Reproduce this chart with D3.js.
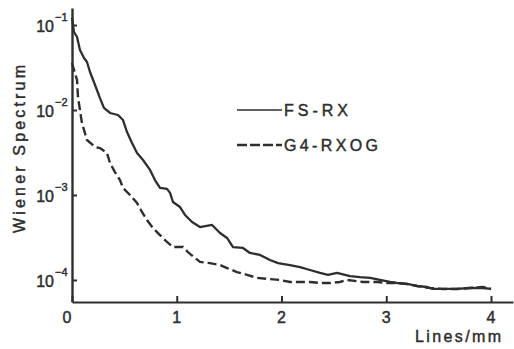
<!DOCTYPE html>
<html>
<head>
<meta charset="utf-8">
<script src="https://cdn.jsdelivr.net/npm/d3@7"></script>
<style>
  html, body { margin: 0; padding: 0; background: #fff; }
  svg { display: block; }
  text { font-family: "Liberation Sans", Arial, Helvetica, sans-serif; fill: #2e2e2e; stroke: #2e2e2e; stroke-width: 0.45px; }
</style>
</head>
<body>
<svg id="chart" width="514" height="349"></svg>
<script>
// Spatial frequency (lines/mm) and Wiener spectrum values for each screen/film system
const fsrxFreq = [0, 0.019, 0.048, 0.076, 0.115, 0.143, 0.172, 0.22, 0.267, 0.305, 0.363, 0.439, 0.487, 0.525, 0.573, 0.621, 0.678, 0.745, 0.792, 0.84, 0.907, 0.936, 0.964, 1.031, 1.079, 1.146, 1.222, 1.337, 1.413, 1.48, 1.537, 1.632, 1.699, 1.795, 1.89, 1.967, 2.081, 2.177, 2.272, 2.368, 2.444, 2.53, 2.654, 2.749, 2.845, 2.94, 3.036, 3.103, 3.198, 3.294, 3.389, 3.446, 3.542, 3.675, 3.8, 3.924, 4.0];
const fsrxValues = [0.121, 0.0827, 0.0722, 0.0508, 0.0409, 0.0367, 0.028, 0.0197, 0.0138, 0.0106, 0.00922, 0.00873, 0.00762, 0.00551, 0.00409, 0.00312, 0.00258, 0.00197, 0.0015, 0.00121, 0.00118, 0.00106, 0.000827, 0.000722, 0.000582, 0.000481, 0.00042, 0.000444, 0.000357, 0.000312, 0.000244, 0.000238, 0.000208, 0.000197, 0.000172, 0.000158, 0.00015, 0.000142, 0.000131, 0.000121, 0.000115, 0.000121, 0.000111, 0.000108, 0.000106, 0.0001, 0.0000947, 0.0000922, 0.0000898, 0.000085, 0.0000827, 0.0000784, 0.0000784, 0.0000784, 0.0000805, 0.0000805, 0.0000784];

const g4Freq = [0, 0.019, 0.048, 0.057, 0.076, 0.095, 0.143, 0.22, 0.267, 0.334, 0.363, 0.41, 0.458, 0.487, 0.554, 0.621, 0.668, 0.716, 0.773, 0.84, 0.907, 0.964, 1.06, 1.107, 1.174, 1.222, 1.317, 1.413, 1.48, 1.575, 1.671, 1.766, 1.862, 1.986, 2.081, 2.177, 2.272, 2.368, 2.463, 2.558, 2.625, 2.778, 2.912, 3.007, 3.103, 3.198, 3.294, 3.418, 3.542, 3.675, 3.8, 3.924, 4.0];
const g4Values = [0.0357, 0.0296, 0.0226, 0.0142, 0.01, 0.00703, 0.00444, 0.00367, 0.00357, 0.00312, 0.00238, 0.00186, 0.0015, 0.00121, 0.001, 0.000805, 0.000631, 0.000508, 0.000409, 0.000338, 0.00028, 0.000244, 0.000244, 0.000213, 0.000182, 0.000163, 0.000158, 0.00015, 0.000138, 0.000124, 0.000115, 0.000106, 0.000103, 0.0001, 0.0000947, 0.0000947, 0.0000947, 0.0000922, 0.0000922, 0.0000947, 0.0001, 0.0000947, 0.0000947, 0.0000922, 0.0000922, 0.0000898, 0.000085, 0.0000805, 0.0000784, 0.0000784, 0.0000805, 0.0000827, 0.0000784];

const xTicks = [0, 1, 2, 3, 4];
const yTicks = [1e-1, 1e-2, 1e-3, 1e-4];
const yTickExponents = ["\u22121", "\u22122", "\u22123", "\u22124"];
const seriesNames = ["FS-RX", "G4-RXOG"];
const xTitle = "Lines/mm";
const yTitle = "Wiener  Spectrum";

const ink = "#2e2e2e";
const svg = d3.select("#chart");

const x = d3.scaleLinear().domain([0, 4.21]).range([72, 513]);
const y = d3.scaleLog().domain([Math.pow(10, -4.259), Math.pow(10, -0.8)]).range([302, 8]);

// Axes: ticks point inward, labels drawn separately
const xAxis = svg.append("g")
  .attr("transform", `translate(0,${y.range()[0]})`)
  .call(d3.axisBottom(x).tickValues(xTicks).tickSizeInner(-6).tickSizeOuter(0).tickFormat(""));
xAxis.select(".domain").attr("stroke", ink).attr("stroke-width", 2);
xAxis.selectAll(".tick line").attr("stroke", ink).attr("stroke-width", 2);

const yAxis = svg.append("g")
  .attr("transform", `translate(${x(0)},0)`)
  .call(d3.axisLeft(y).tickValues(yTicks).tickSizeInner(-5).tickSizeOuter(0).tickFormat(""));
yAxis.select(".domain").attr("stroke", ink).attr("stroke-width", 2.4);
yAxis.selectAll(".tick line").attr("stroke", ink).attr("stroke-width", 2);

// X tick labels
svg.append("g").selectAll("text").data(xTicks).join("text")
  .attr("x", d => x(d) + (d === 0 ? -5 : 0))
  .attr("y", y.range()[0] + 21)
  .attr("text-anchor", "middle")
  .attr("font-size", 16)
  .text(d => d);

// Y tick labels as 10 with a negative exponent
const yl = svg.append("g").selectAll("g").data(yTicks).join("g")
  .attr("transform", d => `translate(0,${y(d)})`);
yl.append("text").attr("x", 54).attr("y", 7).attr("text-anchor", "end")
  .attr("font-size", 16).text("10");
yl.append("text").attr("x", 55).attr("y", -4)
  .attr("font-size", 11).text((d, i) => yTickExponents[i]);

// Axis titles
svg.append("text")
  .attr("transform", "translate(25,149) rotate(-90)")
  .attr("text-anchor", "middle")
  .attr("font-size", 16)
  .attr("textLength", 168).attr("lengthAdjust", "spacing")
  .text(yTitle);
svg.append("text")
  .attr("x", 415).attr("y", 342)
  .attr("font-size", 16)
  .attr("textLength", 86).attr("lengthAdjust", "spacing")
  .text(xTitle);

// Curves
const line = d3.line().x(d => x(d[0])).y(d => y(d[1]));
const fsrx = fsrxFreq.map((f, i) => [f, fsrxValues[i]]);
const g4 = g4Freq.map((f, i) => [f, g4Values[i]]);

svg.append("path").datum(fsrx)
  .attr("d", line).attr("fill", "none")
  .attr("stroke", ink).attr("stroke-width", 2.3).attr("stroke-linejoin", "round");
svg.append("path").datum(g4)
  .attr("d", line).attr("fill", "none")
  .attr("stroke", ink).attr("stroke-width", 2.4).attr("stroke-dasharray", "9,4");

// Legend
const legend = [
  { name: seriesNames[0], y: 110, dash: null },
  { name: seriesNames[1], y: 145, dash: "10,3" }
];
const lg = svg.append("g").selectAll("g").data(legend).join("g");
lg.append("line")
  .attr("x1", 237).attr("x2", 282)
  .attr("y1", d => d.y).attr("y2", d => d.y)
  .attr("stroke", ink).attr("stroke-width", d => d.dash ? 2.4 : 1.6)
  .attr("stroke-dasharray", d => d.dash);
lg.append("text")
  .attr("x", 284).attr("y", d => d.y + 6)
  .attr("font-size", 16)
  .attr("textLength", (d, i) => i === 0 ? 64 : 94).attr("lengthAdjust", "spacing")
  .text(d => d.name);
</script>
</body>
</html>
